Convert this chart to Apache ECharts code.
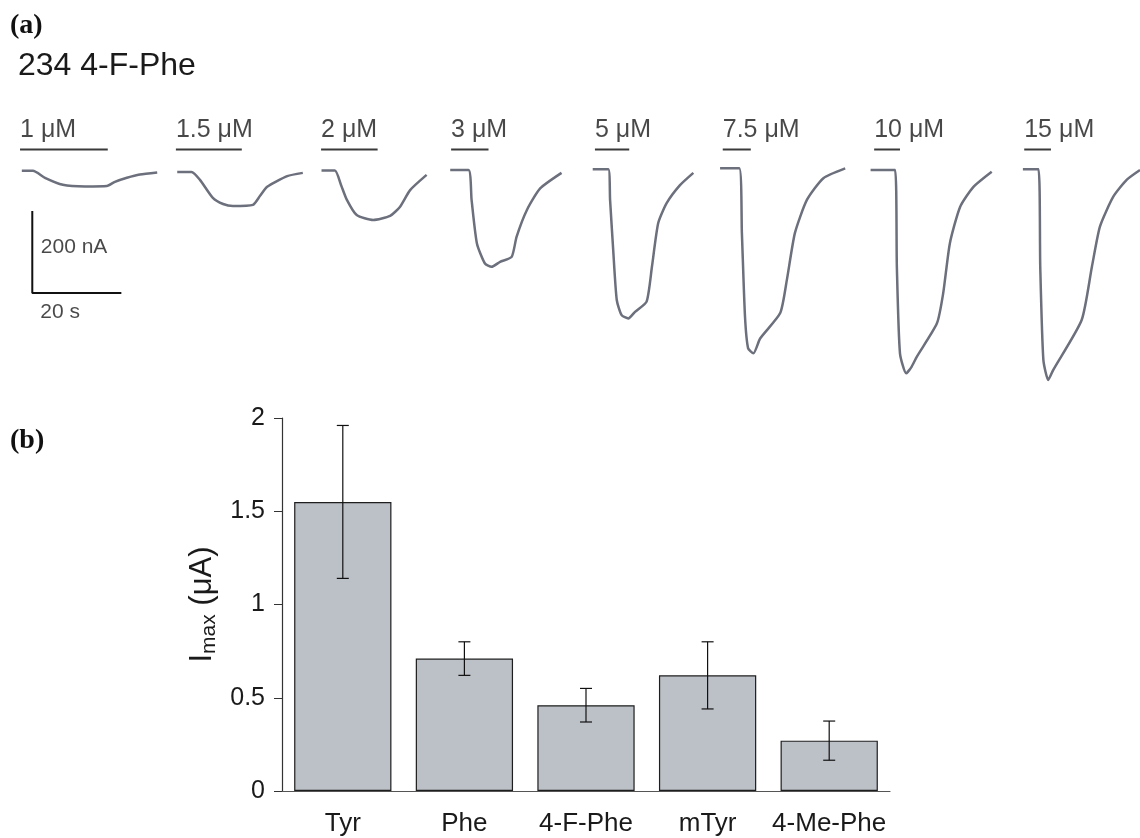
<!DOCTYPE html>
<html>
<head>
<meta charset="utf-8">
<script src="https://cdn.jsdelivr.net/npm/echarts@6.0.0/dist/echarts.min.js"></script>
<style>
  html, body { margin: 0; background: #fff; }
  #chart { width: 1140px; height: 838px; }
</style>
</head>
<body>
<div id="chart"></div>
<script>
// (a) current traces: [time s, current nA]
const trace1uM = [[4.9,-2],[7.4,-2],[10.1,-19],[14.1,-36],[19.1,-40],[24.0,-39],[25.8,-29],[28.5,-19],[31.4,-11],[35.3,-6]];
const trace15uM = [[39.8,-5],[43.0,-5],[44.9,-24],[47.8,-68],[50.1,-83],[52.3,-88],[56.8,-85],[58.4,-63],[60.0,-41],[64.5,-15],[68.0,-7]];
const trace2uM = [[72.2,-1],[75.2,-1],[76.6,-37],[77.9,-73],[80.1,-110],[83.8,-122],[87.6,-112],[89.8,-90],[92.1,-49],[95.8,-12]];
const trace3uM = [[101.1,0],[105.2,0],[105.9,-73],[107.1,-179],[108.9,-228],[110.4,-236],[112.3,-224],[114.9,-212],[116.0,-163],[118.3,-98],[121.3,-45],[126.1,-7]];
const trace5uM = [[133.1,2],[136.6,2],[137.0,-73],[137.7,-195],[138.5,-317],[139.6,-354],[141.1,-362],[142.6,-346],[145.2,-321],[146.4,-236],[147.8,-130],[149.7,-81],[152.7,-37],[155.7,-7]];
const trace75uM = [[161.7,4],[166.0,4],[166.6,-154],[167.3,-358],[168.0,-435],[169.2,-447],[170.7,-411],[175.2,-349],[176.7,-268],[178.5,-154],[181.2,-73],[184.9,-20],[189.8,4]];
const trace10uM = [[195.5,0],[201.0,0],[201.4,-236],[202.1,-447],[203.5,-496],[204.7,-480],[205.9,-455],[210.4,-374],[211.8,-301],[213.3,-179],[215.6,-90],[218.6,-41],[222.7,-4]];
const trace15uM_ = [[229.7,2],[233.2,2],[233.6,-236],[234.3,-463],[235.4,-512],[236.5,-488],[242.9,-366],[245.2,-236],[247.0,-138],[250.0,-65],[253.0,-24],[256.0,0]];
const traces = [trace1uM, trace15uM, trace2uM, trace3uM, trace5uM, trace75uM, trace10uM, trace15uM_];

// drug application bars (s) and their labels
const concLabels = ['1 μM', '1.5 μM', '2 μM', '3 μM', '5 μM', '7.5 μM', '10 μM', '15 μM'];
const appStart = [4.5, 39.5, 72.1, 101.3, 133.6, 162.3, 196.3, 230.0];
const appEnd = [24.2, 54.3, 84.8, 109.7, 141.3, 168.6, 202.1, 236.0];
const appLevel = 50;

// scale bar: 200 nA, 20 s
const scaleBar = [[7.25,-100],[7.25,-300],[27.25,-300]];

// (b) bar chart
const categories = ['Tyr', 'Phe', '4-F-Phe', 'mTyr', '4-Me-Phe'];
const imax = [1.55, 0.71, 0.46, 0.62, 0.27];
const imaxErr = [0.41, 0.09, 0.09, 0.18, 0.105];

const font = 'Liberation Sans, Arial, Helvetica, sans-serif';
const ink = '#1a1a1a';

const myChart = echarts.init(document.getElementById('chart'));

const traceSeries = traces.map(function (d) {
  return {
    type: 'line', xAxisIndex: 1, yAxisIndex: 1, data: d,
    symbol: 'none', smooth: 0.2, silent: true,
    lineStyle: { color: '#6c6f7c', width: 2.5 }
  };
});

const appSeries = appStart.map(function (s, i) {
  return {
    type: 'line', xAxisIndex: 1, yAxisIndex: 1,
    data: [[s, appLevel], [appEnd[i], appLevel]],
    symbol: 'none', silent: true,
    lineStyle: { color: '#3a3a3a', width: 2 }
  };
});

const option = {
  animation: false,
  title: {
    text: '234 4-F-Phe',
    left: 13, top: 45,
    textStyle: { fontSize: 32, fontWeight: 'normal', color: ink, fontFamily: font }
  },
  graphic: [
    { type: 'text', left: 10, top: 12, style: { text: '(a)', font: 'bold 28px Liberation Serif, Times New Roman, serif', fill: '#111' } },
    { type: 'text', left: 10, top: 427, style: { text: '(b)', font: 'bold 28px Liberation Serif, Times New Roman, serif', fill: '#111' } }
  ],
  grid: [
    { left: 282, right: 250, top: 418, bottom: 47 },
    { left: 0, right: 0, top: 129, height: 287 }
  ],
  xAxis: [
    {
      type: 'category', gridIndex: 0, data: categories,
      axisLine: { lineStyle: { color: '#555', width: 1.2 } },
      axisTick: { length: 8, lineStyle: { color: '#333' } },
      axisLabel: { interval: 0, fontSize: 26, color: ink, margin: 20, fontFamily: font }
    },
    { type: 'value', gridIndex: 1, min: 0, max: 256, show: false }
  ],
  yAxis: [
    {
      type: 'value', gridIndex: 0, min: 0, max: 2, interval: 0.5,
      name: '{i|I}{sub|max}{i| (μA)}',
      nameLocation: 'middle', nameRotate: 90, nameGap: 60,
      nameTextStyle: {
        fontFamily: font, color: ink,
        rich: {
          i: { fontSize: 31, lineHeight: 34, fontFamily: font, color: ink },
          sub: { fontSize: 21, lineHeight: 21, verticalAlign: 'bottom', fontFamily: font, color: ink }
        }
      },
      axisLine: { show: true, lineStyle: { color: '#333', width: 1.2 } },
      axisTick: { show: true, length: 8, lineStyle: { color: '#333' } },
      splitLine: { show: false },
      axisLabel: { fontSize: 25, color: ink, margin: 17, fontFamily: font }
    },
    { type: 'value', gridIndex: 1, min: -600, max: 100, show: false }
  ],
  series: [
    {
      type: 'bar', xAxisIndex: 0, yAxisIndex: 0, data: imax,
      barCategoryGap: '20%', silent: true,
      itemStyle: { color: '#bcc0c7', borderColor: '#1e1e1e', borderWidth: 1.2 }
    },
    {
      type: 'custom', xAxisIndex: 0, yAxisIndex: 0, silent: true,
      data: categories.map(function (c, i) { return [i, imax[i] - imaxErr[i], imax[i] + imaxErr[i]]; }),
      encode: { x: 0, y: [1, 2] },
      renderItem: function (params, api) {
        const x = api.value(0);
        const lo = api.coord([x, api.value(1)]);
        const hi = api.coord([x, api.value(2)]);
        const w = 6;
        const st = { stroke: '#111', lineWidth: 1.2 };
        return {
          type: 'group',
          children: [
            { type: 'line', shape: { x1: lo[0], y1: lo[1], x2: hi[0], y2: hi[1] }, style: st },
            { type: 'line', shape: { x1: lo[0] - w, y1: lo[1], x2: lo[0] + w, y2: lo[1] }, style: st },
            { type: 'line', shape: { x1: hi[0] - w, y1: hi[1], x2: hi[0] + w, y2: hi[1] }, style: st }
          ]
        };
      },
      z: 3
    },
    {
      type: 'line', xAxisIndex: 1, yAxisIndex: 1, data: scaleBar,
      symbol: 'none', silent: true,
      lineStyle: { color: '#111', width: 2 }
    },
    {
      type: 'scatter', xAxisIndex: 1, yAxisIndex: 1, symbolSize: 1, silent: true,
      itemStyle: { color: 'transparent' },
      data: [
        { value: [scaleBar[0][0], (scaleBar[0][1] + scaleBar[1][1]) / 2], name: '200 nA',
          label: { position: 'right', distance: 8, offset: [0, -5] } },
        { value: [scaleBar[1][0], scaleBar[1][1]], name: '20 s',
          label: { position: 'bottom', align: 'left', distance: 8, offset: [8, 0] } }
      ],
      label: { show: true, formatter: '{b}', fontSize: 21, color: ink, fontFamily: font }
    },
    {
      type: 'scatter', xAxisIndex: 1, yAxisIndex: 1, symbolSize: 1, silent: true,
      itemStyle: { color: 'transparent' },
      data: concLabels.map(function (c, i) { return { value: [appStart[i], appLevel], name: c }; }),
      label: {
        show: true, formatter: '{b}', position: 'top', align: 'left', distance: 6,
        fontSize: 25, color: ink, fontFamily: font
      }
    }
  ].concat(traceSeries, appSeries)
};

myChart.setOption(option);
</script>
</body>
</html>
